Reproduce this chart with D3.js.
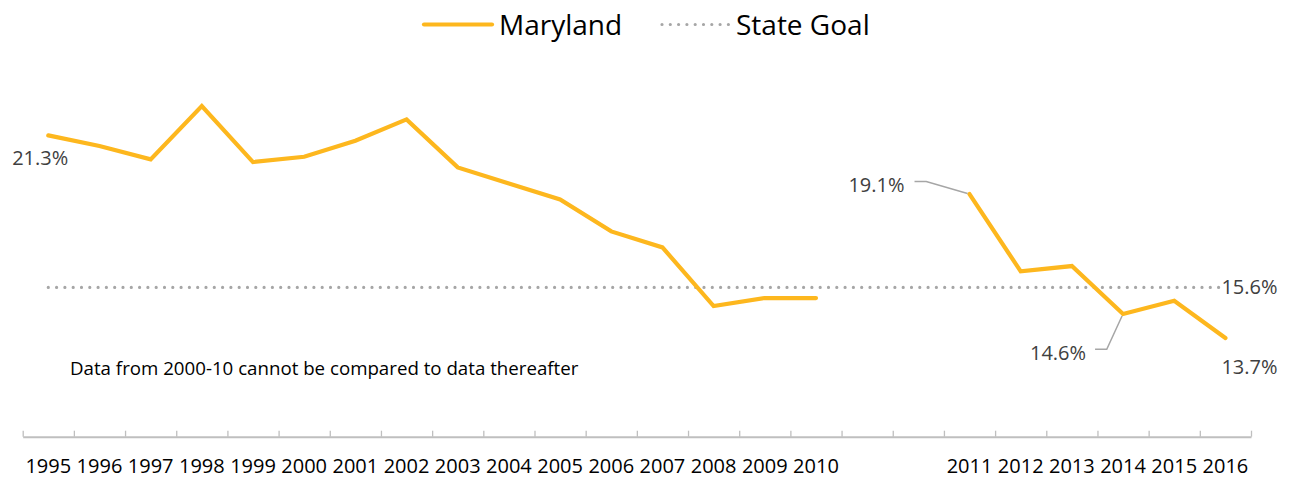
<!DOCTYPE html>
<html>
<head>
<meta charset="utf-8">
<script src="https://cdn.jsdelivr.net/npm/d3@7"></script>
<style>
  html, body { margin: 0; padding: 0; background: #fff; }
  svg { display: block; font-family: "Open Sans", sans-serif; }
</style>
</head>
<body>
<svg id="chart" width="1291" height="478"></svg>
<script>
// Categories along the x axis; two empty slots separate the two survey series.
const categories = ["1995","1996","1997","1998","1999","2000","2001","2002","2003","2004",
  "2005","2006","2007","2008","2009","2010","gap1","gap2",
  "2011","2012","2013","2014","2015","2016"];
const tickLabels = categories.map(c => c.startsWith("gap") ? "" : c);

// Maryland rate (%) per category; null where no comparable value exists.
const marylandValues = [21.3, 20.9, 20.4, 22.4, 20.3, 20.5, 21.1, 21.9, 20.1, 19.5,
  18.9, 17.7, 17.1, 14.9, 15.2, 15.2, null, null,
  19.1, 16.2, 16.4, 14.6, 15.1, 13.7];

// State goal (%) held constant across the whole span.
const stateGoal = 15.6;

const svg = d3.select("#chart");
const orange = "#FDB71E";
const grey = "#A6A6A6";
const labelColor = "#404040";

const x = d3.scaleBand().domain(categories).range([22.7, 1251]).paddingInner(0).paddingOuter(0);
const cx = c => x(c) + x.bandwidth() / 2;
const y = d3.scaleLinear().domain([10, 24]).range([436.7, 63.4]);

// Axis: labels centred in each category, tick marks on category boundaries
const boundary = d3.scaleLinear().domain([0, categories.length]).range([22.7, 1251]);
const tickAxis = svg.append("g")
  .attr("transform", "translate(0,436.7)")
  .call(d3.axisBottom(boundary).tickValues(d3.range(0, categories.length + 1))
    .tickSizeInner(-6).tickSizeOuter(0).tickFormat(""));
tickAxis.selectAll("path.domain").attr("stroke", "#BFBFBF").attr("stroke-width", 2);
tickAxis.selectAll(".tick line").attr("stroke", "#BFBFBF").attr("stroke-width", 1.3);

const labelAxis = svg.append("g")
  .attr("transform", "translate(0,436.7)")
  .call(d3.axisBottom(x).tickSize(0).tickFormat((d, i) => tickLabels[i]));
labelAxis.select("path.domain").remove();
labelAxis.selectAll(".tick text")
  .attr("y", 36).attr("dy", 0)
  .attr("fill", "#000")
  .style("font-family", "'Open Sans', sans-serif")
  .style("font-size", "20px");

// State goal dotted line across all categories
const goalLine = d3.line().x(d => cx(d)).y(() => y(stateGoal));
svg.append("path")
  .attr("d", goalLine([categories[0], categories[categories.length - 1]]))
  .attr("fill", "none")
  .attr("stroke", grey)
  .attr("stroke-width", 3.2)
  .attr("stroke-linecap", "round")
  .attr("stroke-dasharray", "0 8.3");

// Maryland series, broken at the empty categories
const line = d3.line()
  .defined(d => d.v !== null)
  .x(d => cx(d.c))
  .y(d => y(d.v));
const pts = categories.map((c, i) => ({ c, v: marylandValues[i] }));
svg.append("path")
  .attr("d", line(pts))
  .attr("fill", "none")
  .attr("stroke", orange)
  .attr("stroke-width", 4.2)
  .attr("stroke-linejoin", "miter")
  .attr("stroke-linecap", "round");

// Data labels with leader lines
const fmt = v => v.toFixed(1) + "%";
const labelStyle = sel => sel.attr("fill", labelColor).style("font-size", "20px");
const valueOf = c => marylandValues[categories.indexOf(c)];

const p1995 = { x: cx("1995"), y: y(valueOf("1995")) };
svg.append("text").call(labelStyle)
  .attr("x", p1995.x + 20).attr("y", p1995.y + 30)
  .attr("text-anchor", "end").text(fmt(valueOf("1995")));

const p2011 = { x: cx("2011"), y: y(valueOf("2011")) };
svg.append("polyline")
  .attr("points", [[p2011.x - 55, p2011.y - 12.6], [p2011.x - 43.3, p2011.y - 12.6], [p2011.x - 2, p2011.y - 0.5]].join(" "))
  .attr("fill", "none").attr("stroke", grey).attr("stroke-width", 1.5);
svg.append("text").call(labelStyle)
  .attr("x", p2011.x - 65).attr("y", p2011.y - 2)
  .attr("text-anchor", "end").text(fmt(valueOf("2011")));

const p2014 = { x: cx("2014"), y: y(valueOf("2014")) };
svg.append("polyline")
  .attr("points", [[p2014.x - 28, p2014.y + 35.3], [p2014.x - 16.3, p2014.y + 35.3], [p2014.x - 1, p2014.y + 2]].join(" "))
  .attr("fill", "none").attr("stroke", grey).attr("stroke-width", 1.5);
svg.append("text").call(labelStyle)
  .attr("x", p2014.x - 37).attr("y", p2014.y + 46)
  .attr("text-anchor", "end").text(fmt(valueOf("2014")));

const p2016 = { x: cx("2016"), y: y(valueOf("2016")) };
svg.append("text").call(labelStyle)
  .attr("x", p2016.x - 4).attr("y", p2016.y + 36)
  .attr("text-anchor", "start").text(fmt(valueOf("2016")));

svg.append("text").call(labelStyle)
  .attr("x", cx("2016") - 4).attr("y", y(stateGoal) + 7)
  .attr("text-anchor", "start").text(fmt(stateGoal));

// Note about the break in the series
svg.append("text")
  .attr("x", 70).attr("y", 375)
  .attr("fill", "#000")
  .style("font-size", "18.7px")
  .text("Data from 2000-10 cannot be compared to data thereafter");

// Legend
const legend = svg.append("g");
legend.append("line")
  .attr("x1", 424).attr("x2", 492).attr("y1", 24.5).attr("y2", 24.5)
  .attr("stroke", orange).attr("stroke-width", 4.2).attr("stroke-linecap", "round");
legend.append("text")
  .attr("x", 499).attr("y", 34.5).attr("fill", "#000")
  .style("font-size", "28px").text("Maryland");
legend.append("line")
  .attr("x1", 662).attr("x2", 730).attr("y1", 24.5).attr("y2", 24.5)
  .attr("stroke", grey).attr("stroke-width", 3.2)
  .attr("stroke-linecap", "round").attr("stroke-dasharray", "0 8.3");
legend.append("text")
  .attr("x", 736).attr("y", 34.5).attr("fill", "#000")
  .style("font-size", "28px").text("State Goal");
</script>
</body>
</html>
